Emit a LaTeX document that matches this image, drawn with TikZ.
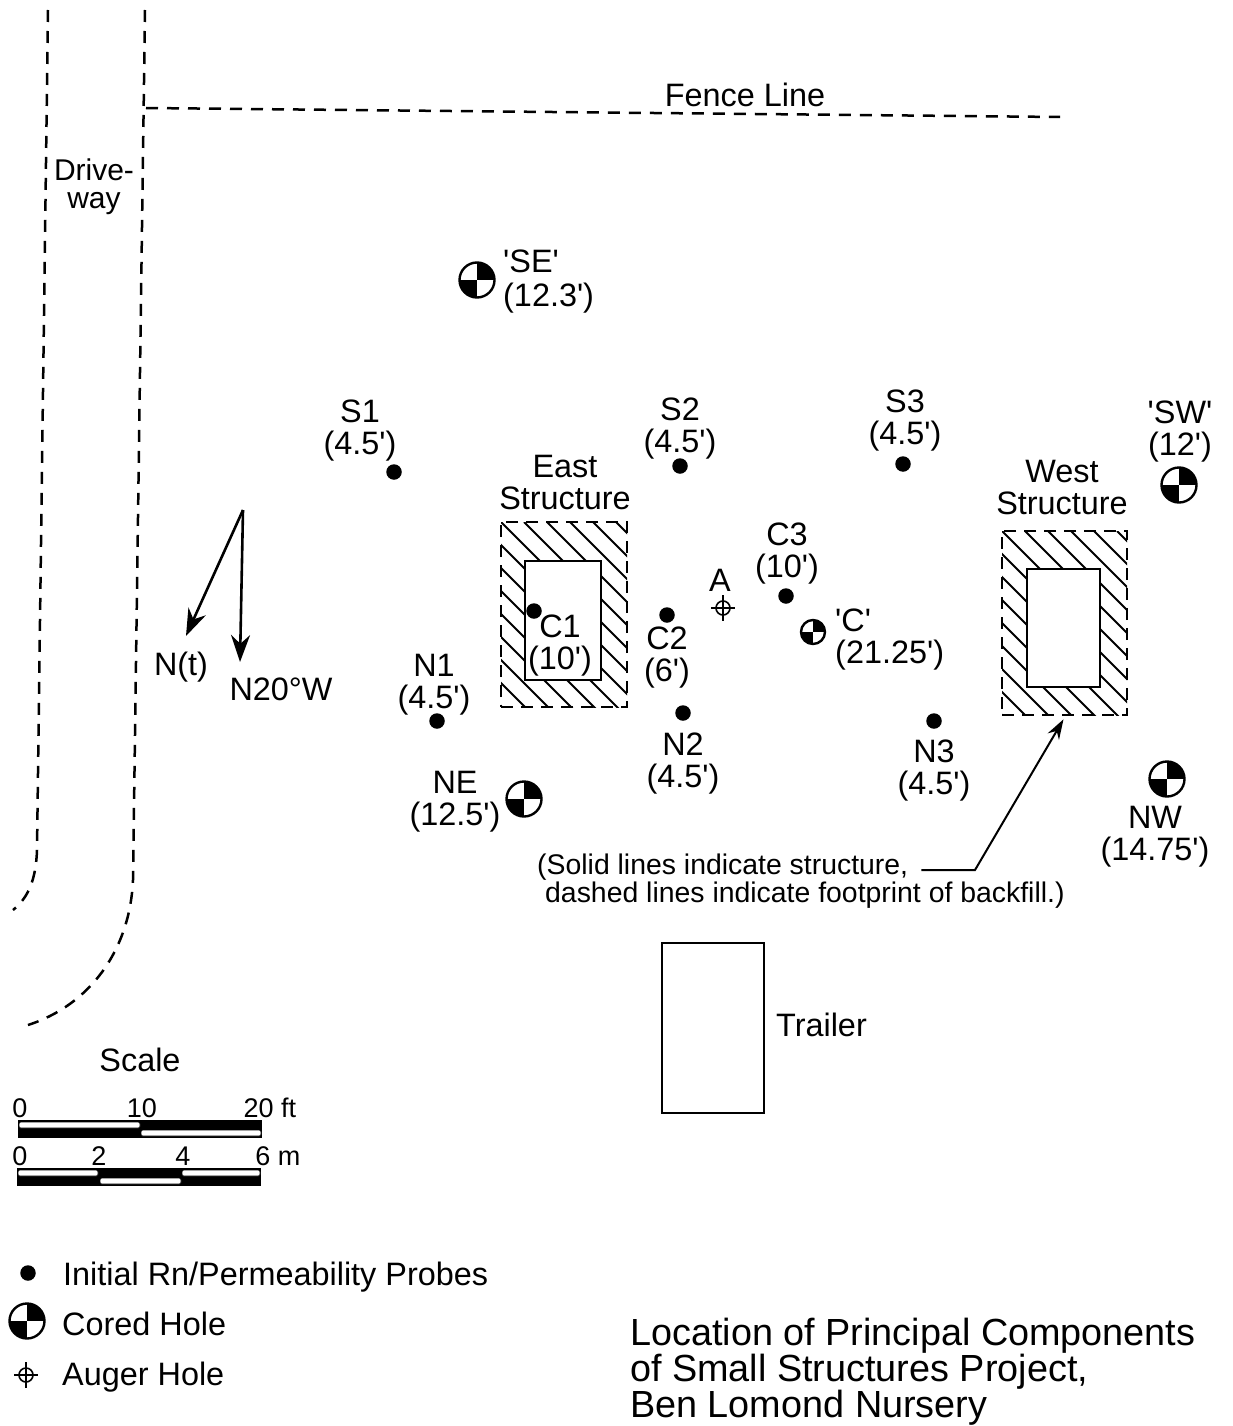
\documentclass[tikz,border=0pt]{standalone}
\usepackage{fontspec}
\setmainfont{Liberation Sans}[Ligatures=TeXOff]
\usetikzlibrary{arrows.meta,calc}
\tikzset{
  lab/.style={font=\fontsize{32.4}{32}\selectfont,align=center,inner sep=0pt,text=black},
  smalllab/.style={font=\fontsize{27}{28}\selectfont,inner sep=0pt},
  notelab/.style={font=\fontsize{28.4}{28}\selectfont,inner sep=0pt,anchor=west},
  titlelab/.style={font=\fontsize{37.8}{36}\selectfont,align=left,inner sep=0pt,anchor=west},
  dashline/.style={line width=2.5pt,dash pattern=on 12pt off 9pt},
  outerbox/.style={rectangle,draw,line width=2.6pt,dash pattern=on 12pt off 8pt,inner sep=0pt},
  innerbox/.style={rectangle,draw,fill=white,line width=2.6pt,inner sep=0pt},
  hatchline/.style={line width=1.8pt},
  probe/.style={circle,fill=black,minimum size=15.5pt,inner sep=0pt},
  cored/.style={circle,draw,line width=2.4pt,fill=white,minimum size=#1,inner sep=0pt,
    path picture={
      \fill[black] (path picture bounding box.center) rectangle (path picture bounding box.north east);
      \fill[black] (path picture bounding box.center) rectangle (path picture bounding box.south west);}},
  auger/.style={circle,draw,line width=1.6pt,minimum size=14pt,inner sep=0pt},
  augerline/.style={line width=1.6pt},
  arrowline/.style={line width=2.6pt,-{Stealth[length=27pt,width=19pt]}},
  leaderline/.style={line width=2pt,-{Stealth[length=20pt,width=13pt]}},
  trailerbox/.style={rectangle,draw,line width=2.2pt,inner sep=0pt},
  barwhite/.style={fill=white,draw=black,line width=0.6pt,rounded corners=1.5pt},
}
\newcommand{\hatchfill}[4]{%
  \begin{scope}
    \clip (#1,#2) rectangle (#3,#4);
    \foreach \d in {-230,-207,...,161}
      \draw[hatchline] (#1+\d,#2) -- ++(300,300);
  \end{scope}}
\newcommand{\augerbars}[1]{%
  \draw[augerline] ($(#1)+(-12,0)$) -- ($(#1)+(12,0)$);
  \draw[augerline] ($(#1)+(0,-13)$) -- ($(#1)+(0,13)$);}
\begin{document}
\begin{tikzpicture}[x=1pt,y=-1pt]
\useasboundingbox (0,0) rectangle (1233,1426);
% driveway and fence
\draw[dashline] (48,10) -- (37,850) .. controls (36,880) and (28,898) .. (13,910);
\draw[dashline] (145,10) -- (133,880) .. controls (130,950) and (90,1005) .. (28,1025);
\draw[dashline] (146,108) -- (1060,117);
% hatching
\hatchfill{501}{522}{627}{707}
\hatchfill{1002}{531}{1127}{715}
% structures
\node[outerbox,minimum width=126pt,minimum height=185pt] (eastouter) at (564,614.5) {};
\node[innerbox,minimum width=76pt,minimum height=119pt] (eastinner) at (563,620.5) {};
\node[outerbox,minimum width=125pt,minimum height=184pt] (westouter) at (1064.5,623) {};
\node[innerbox,minimum width=73pt,minimum height=118pt] (westinner) at (1063.5,628) {};
\node[trailerbox,minimum width=102pt,minimum height=170pt] (trailer) at (713,1028) {};
% labels
\node[lab,fill=white,inner xsep=3pt] (fence) at (745,95) {Fence Line};
\node[lab,font=\fontsize{30}{28}\selectfont,fill=white,inner xsep=2pt] (drive) at (94,187) {Drive-\\way};
\node[lab,anchor=west,align=left] (lse) at (503,282) {'SE'\\[2pt](12.3')};
\node[lab] (ls1) at (360,431) {S1\\(4.5')};
\node[lab] (ls2) at (680,429) {S2\\(4.5')};
\node[lab] (ls3) at (905,421) {S3\\(4.5')};
\node[lab] (lsw) at (1180,432) {'SW'\\(12')};
\node[lab] (least) at (565,482.5) {East\\Structure};
\node[lab] (lwest) at (1062,487.5) {West\\Structure};
\node[lab] (lc3) at (787,554) {C3\\(10')};
\node[lab] (la) at (720,580) {A};
\node[lab,anchor=west,align=left] (lcc) at (835,640) {'C'\\(21.25')};
\node[lab] (lc1) at (560,646) {C1\\(10')};
\node[lab] (lc2) at (667,658) {C2\\(6')};
\node[lab] (lnt) at (181,667) {N(t)};
\node[lab] (lnw) at (281,689) {N20°W};
\node[lab] (ln1) at (434,685) {N1\\(4.5')};
\node[lab] (ln2) at (683,764) {N2\\(4.5')};
\node[lab] (ln3) at (934,771) {N3\\(4.5')};
\node[lab] (lne) at (455,802) {NE\\(12.5')};
\node[lab] (lnwh) at (1155,837) {NW\\(14.75')};
\node[notelab] (notea) at (537,867) {(Solid lines indicate structure,};
\node[notelab] (noteb) at (545,895) {dashed lines indicate footprint of backfill.)};
\node[lab,anchor=west] (ltrailer) at (776,1025) {Trailer};
\node[lab] (lscale) at (140,1060) {Scale};
\node[lab,anchor=west] (lega) at (63,1277) {Initial Rn/Permeability Probes};
\node[lab,anchor=west] (legb) at (62,1324) {Cored Hole};
\node[lab,anchor=west] (legc) at (62,1377) {Auger Hole};
\node[titlelab] (title) at (630,1372) {Location of Principal Components\\of Small Structures Project,\\Ben Lomond Nursery};
% probes
\node[probe] (s1) at (394,472) {};
\node[probe] (s2) at (680,466) {};
\node[probe] (s3) at (903,464) {};
\node[probe] (c1) at (534,611) {};
\node[probe] (c2) at (667,615) {};
\node[probe] (c3) at (786,596) {};
\node[probe] (n1) at (437,721) {};
\node[probe] (n2) at (683,713) {};
\node[probe] (n3) at (934,721) {};
\node[probe] (legprobe) at (28,1273) {};
% cored holes
\node[cored=35pt] (se) at (477,280) {};
\node[cored=35pt] (sw) at (1179,485) {};
\node[cored=24pt] (cc) at (813,632) {};
\node[cored=35pt] (ne) at (524,799) {};
\node[cored=35pt] (nw) at (1167,779) {};
\node[cored=35pt] (legcored) at (27,1321) {};
% auger holes
\node[auger] (aug) at (723,608) {};
\augerbars{aug}
\node[auger] (legaug) at (26,1375) {};
\augerbars{legaug}
% north arrows
\coordinate (apex) at (243,510);
\coordinate (tipt) at (186,636);
\coordinate (tipw) at (240,662);
\draw[arrowline] (apex) -- (tipt);
\draw[arrowline] (apex) -- (tipw);
% leader
\coordinate (bend) at (975,870);
\draw[leaderline] ([xshift=13pt]notea.east |- bend) -- (bend) -- ($(westouter.south)+(-1,3)$);
% scale: ft
\node[smalllab] (ft0) at (20,1108) {0};
\node[smalllab] (ft10) at (142,1108) {10};
\node[smalllab] (ft20) at (270,1108) {20 ft};
\fill (18,1120) rectangle (262,1138);
\draw[barwhite] (19,1122) rectangle (140,1128);
\draw[barwhite] (141,1130) rectangle (261,1136);
% scale: m
\node[smalllab] (m0) at (20,1156) {0};
\node[smalllab] (m2) at (99,1156) {2};
\node[smalllab] (m4) at (183,1156) {4};
\node[smalllab] (m6) at (278,1156) {6 m};
\fill (17,1168) rectangle (261,1186);
\draw[barwhite] (18,1170) rectangle (98,1176);
\draw[barwhite] (100,1178) rectangle (181,1184);
\draw[barwhite] (182,1170) rectangle (260,1176);
\end{tikzpicture}
\end{document}
